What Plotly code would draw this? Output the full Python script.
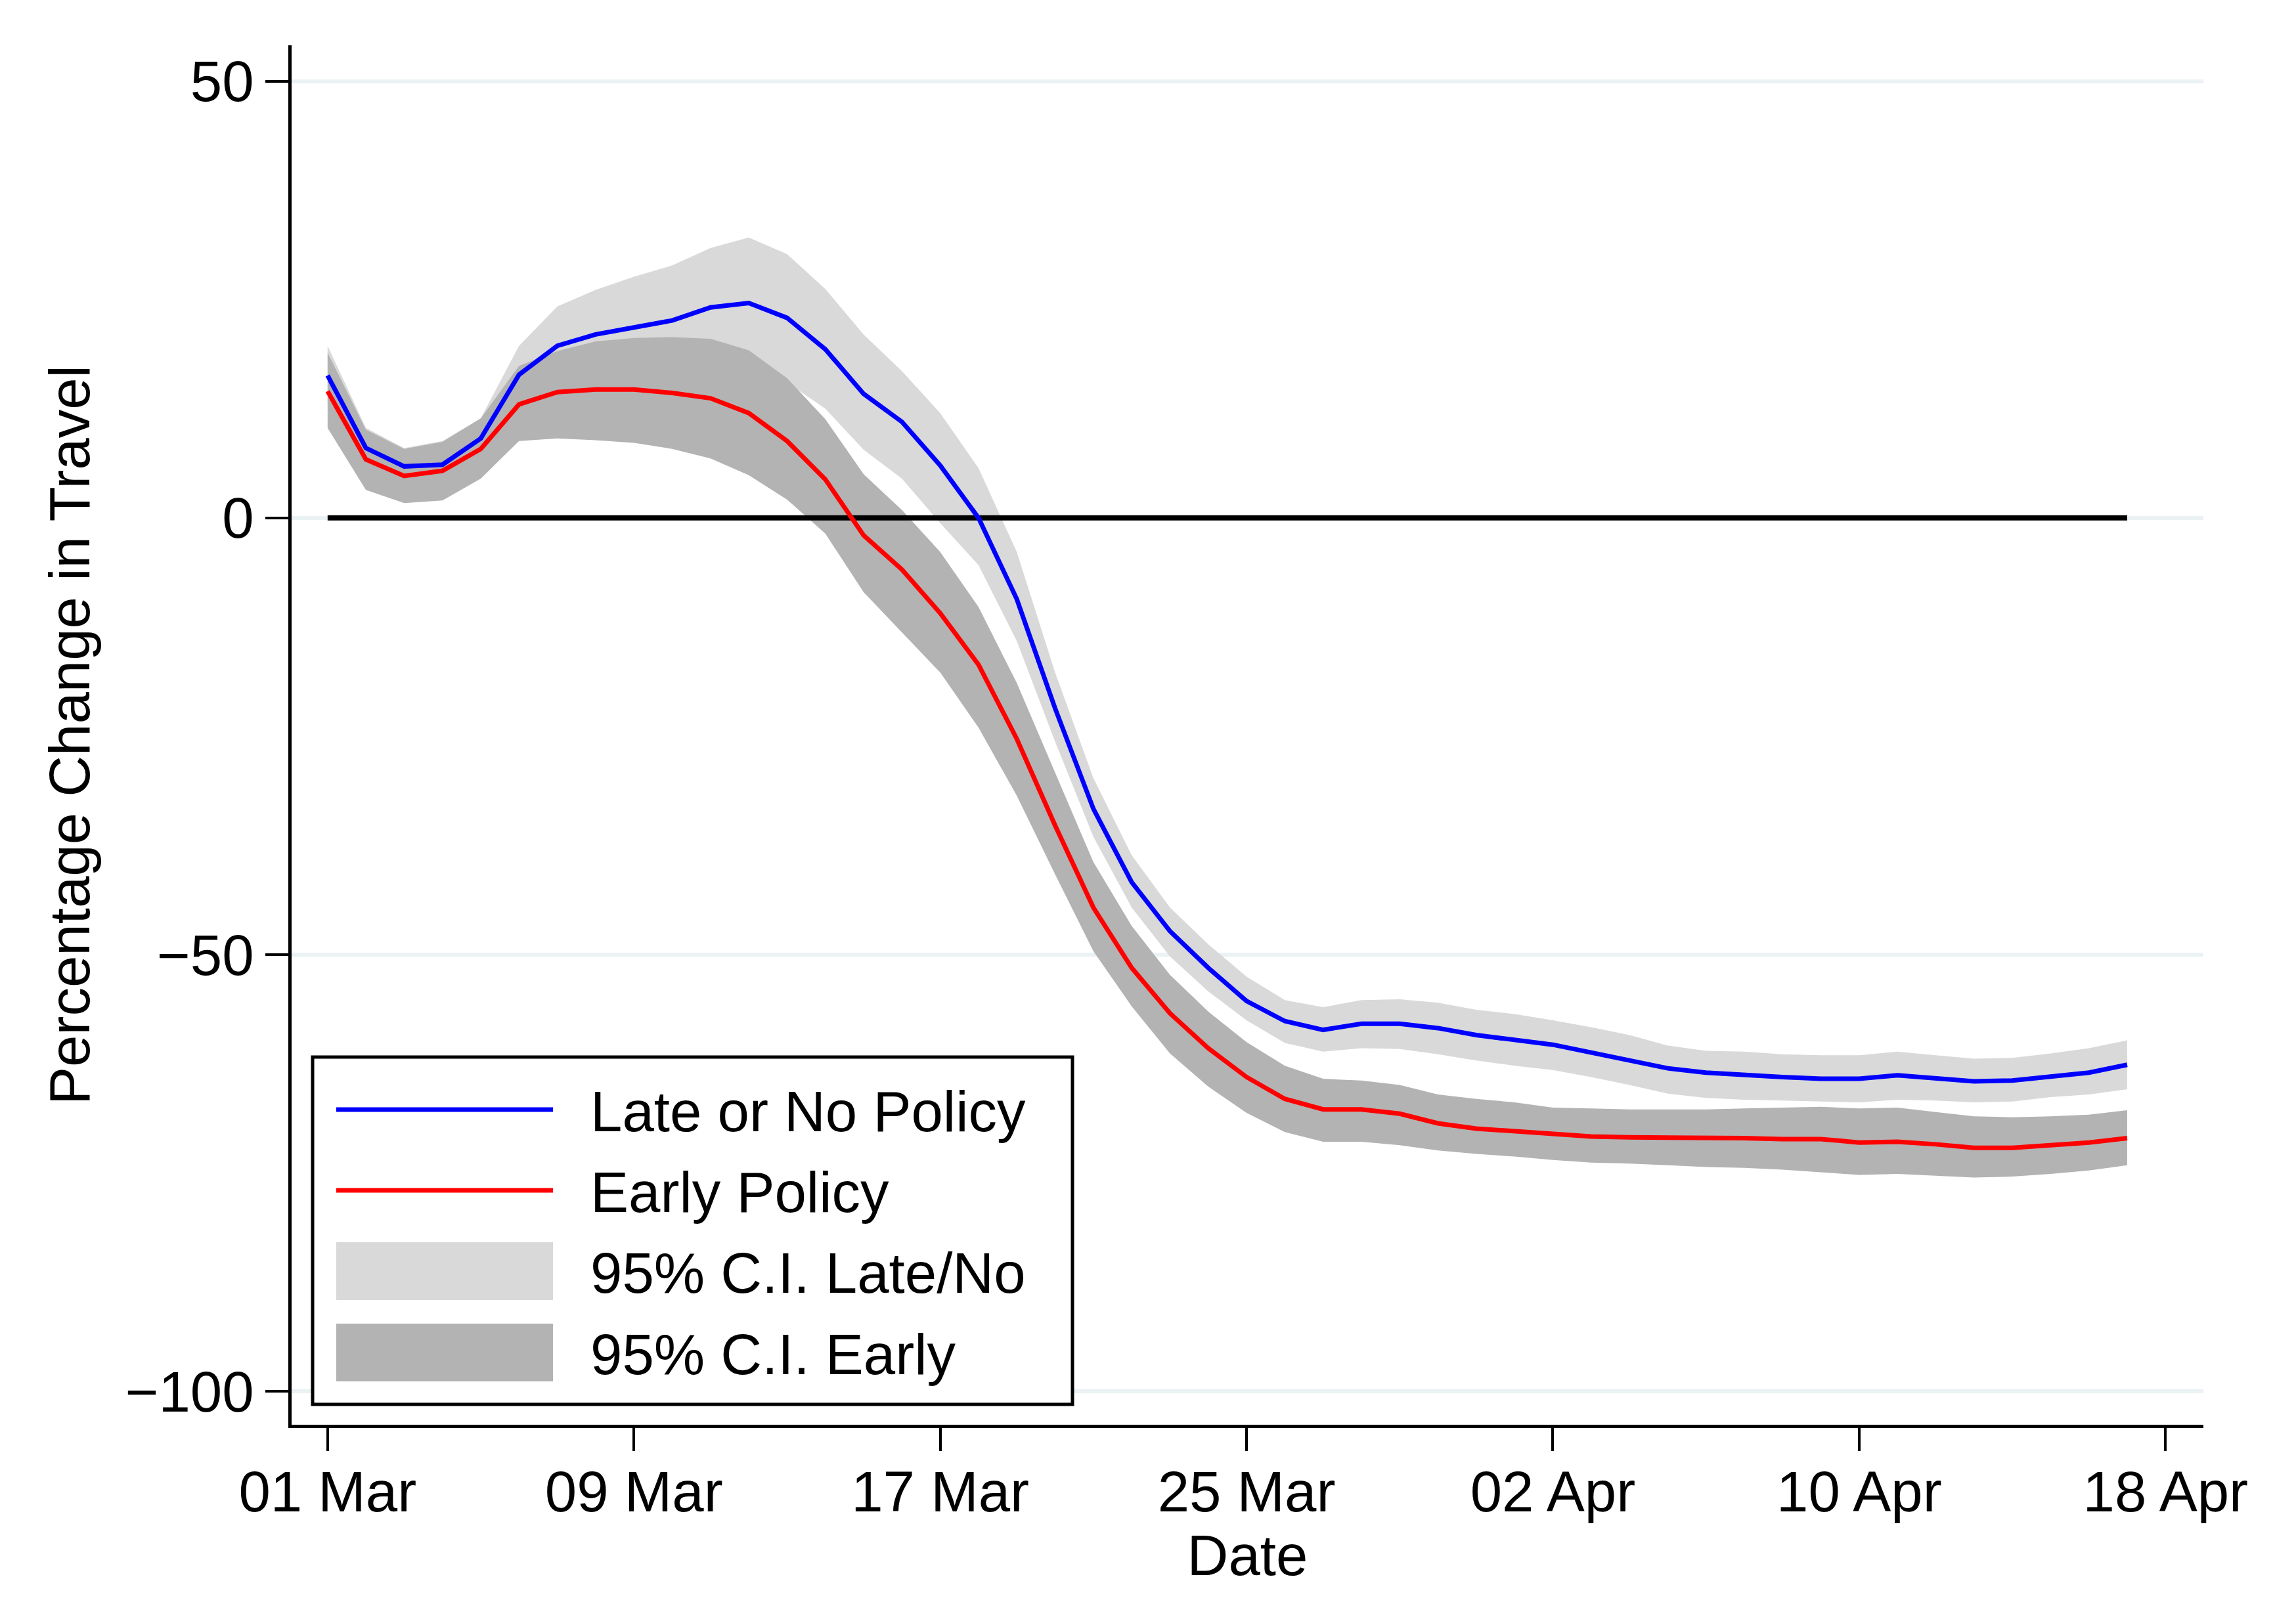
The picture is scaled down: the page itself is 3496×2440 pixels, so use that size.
import pandas as pd
import plotly.graph_objects as go

# ---------------- data ----------------
start_date = "2020-03-01"
n_days = 48
dates = pd.date_range(start_date, periods=n_days, freq="D")

late_mean = [16.3, 8.0, 5.9, 6.1, 9.1, 16.4, 19.7, 21.0, 21.8, 22.6,
             24.1, 24.6, 22.9, 19.3, 14.2, 11.0, 6.0, 0.0, -9.3, -21.8,
             -33.3, -41.7, -47.3, -51.5, -55.3, -57.6, -58.6, -57.9, -57.9, -58.4,
             -59.2, -59.7, -60.3, -61.2, -62.1, -63.0, -63.5, -63.8, -64.0, -64.2,
             -64.2, -63.8, -64.2, -64.5, -64.4, -63.9, -63.5, -62.6]
early_mean = [14.5, 6.7, 4.8, 5.4, 7.9, 13.0, 14.4, 14.7, 14.7, 14.3,
              13.7, 12.0, 8.8, 4.4, -2.0, -5.9, -10.9, -16.8, -25.3, -35.2,
              -44.6, -51.5, -56.7, -60.7, -64.0, -66.5, -67.7, -67.7, -68.2, -69.3,
              -69.9, -70.2, -70.6, -70.8, -70.9, -70.9, -71.0, -71.0, -71.1, -71.1,
              -71.5, -71.4, -71.7, -72.1, -72.1, -71.8, -71.5, -71.0]
late_hi = [19.7, 10.3, 8.0, 8.8, 11.4, 19.7, 24.2, 26.1, 27.6, 28.9,
           30.9, 32.1, 30.2, 26.2, 21.0, 16.8, 12.0, 5.7, -3.9, -17.7,
           -29.8, -38.6, -44.6, -48.8, -52.5, -55.2, -56.0, -55.2, -55.1, -55.5,
           -56.3, -56.8, -57.5, -58.3, -59.2, -60.4, -61.0, -61.1, -61.4, -61.5,
           -61.5, -61.1, -61.5, -61.9, -61.8, -61.3, -60.7, -59.8]
late_lo = [12.9, 5.7, 3.8, 3.4, 6.8, 13.1, 15.2, 15.9, 16.0, 16.3,
           17.3, 17.1, 15.5, 12.5, 7.8, 4.5, -0.6, -5.4, -14.1, -25.6,
           -36.5, -44.6, -50.2, -54.2, -57.5, -60.1, -61.1, -60.7, -60.8, -61.4,
           -62.1, -62.7, -63.2, -64.0, -64.9, -65.9, -66.4, -66.6, -66.7, -66.8,
           -66.9, -66.6, -66.7, -66.9, -66.8, -66.3, -66.0, -65.4]
early_hi = [18.9, 10.1, 7.9, 8.7, 11.4, 17.4, 19.1, 20.2, 20.6, 20.7,
            20.5, 19.2, 16.0, 11.3, 5.0, 0.9, -3.9, -10.2, -18.9, -29.1,
            -39.4, -46.7, -52.3, -56.5, -60.0, -62.7, -64.2, -64.4, -64.9, -66.0,
            -66.5, -66.9, -67.5, -67.6, -67.7, -67.7, -67.7, -67.6, -67.5, -67.4,
            -67.6, -67.5, -68.0, -68.5, -68.6, -68.5, -68.3, -67.8]
early_lo = [10.3, 3.2, 1.7, 2.0, 4.5, 8.8, 9.1, 8.9, 8.6, 7.9,
            6.8, 4.9, 2.1, -1.8, -8.5, -13.1, -17.7, -24.0, -31.8, -40.8,
            -49.6, -55.9, -61.3, -65.1, -68.1, -70.3, -71.4, -71.4, -71.8, -72.4,
            -72.8, -73.1, -73.5, -73.8, -73.9, -74.1, -74.3, -74.4, -74.6, -74.9,
            -75.2, -75.1, -75.3, -75.5, -75.4, -75.1, -74.7, -74.1]
zero_level = [0, 0]

x_tick_dates = ["2020-03-01", "2020-03-09", "2020-03-17", "2020-03-25",
                "2020-04-02", "2020-04-10", "2020-04-18"]
x_tick_labels = ["01 Mar", "09 Mar", "17 Mar", "25 Mar", "02 Apr", "10 Apr", "18 Apr"]
y_tick_vals = [-100, -50, 0, 50]
legend_labels = ["Late or No Policy", "Early Policy", "95% C.I. Late/No", "95% C.I. Early"]

# ---------------- style ----------------
OFF = 8                                  # page body margin compensation
W, H = 3496 - OFF, 2440 - OFF
PL, PR, PT, PB = 444, 3355, 69, 2170     # plot-area pixel edges (screen)
FONT = "Liberation Sans, Arial, sans-serif"
FS = 87
BLUE, RED = "#0000FF", "#FF0000"
LIGHT, DARK = "#D9D9D9", "#B3B3B3"
GRID = "#EAF2F3"

def px_x(p):
    return (p - PL) / (PR - PL)

def px_y(p):
    return (PB - p) / (PB - PT)

fig = go.Figure()
# light CI band (Late/No)
fig.add_trace(go.Scatter(x=dates, y=late_lo, mode="lines", line=dict(width=0, color=LIGHT),
                         showlegend=False, hoverinfo="skip"))
fig.add_trace(go.Scatter(x=dates, y=late_hi, mode="lines", line=dict(width=0, color=LIGHT),
                         fill="tonexty", fillcolor=LIGHT, name=legend_labels[2], showlegend=False))
# dark CI band (Early)
fig.add_trace(go.Scatter(x=dates, y=early_lo, mode="lines", line=dict(width=0, color=DARK),
                         showlegend=False, hoverinfo="skip"))
fig.add_trace(go.Scatter(x=dates, y=early_hi, mode="lines", line=dict(width=0, color=DARK),
                         fill="tonexty", fillcolor=DARK, name=legend_labels[3], showlegend=False))
# zero reference line
fig.add_trace(go.Scatter(x=[dates[0], dates[-1]], y=zero_level, mode="lines",
                         line=dict(color="black", width=8), showlegend=False, hoverinfo="skip"))
# means
fig.add_trace(go.Scatter(x=dates, y=late_mean, mode="lines", line=dict(color=BLUE, width=7),
                         name=legend_labels[0], showlegend=False))
fig.add_trace(go.Scatter(x=dates, y=early_mean, mode="lines", line=dict(color=RED, width=7),
                         name=legend_labels[1], showlegend=False))

# ---------------- manual legend (Stata-style) ----------------
shapes = []
annotations = []
box = dict(x0=476, x1=1633, y0=1610, y1=2139)
shapes.append(dict(type="rect", xref="paper", yref="paper",
                   x0=px_x(box["x0"]), x1=px_x(box["x1"]),
                   y0=px_y(box["y1"]), y1=px_y(box["y0"]),
                   line=dict(color="black", width=5), fillcolor="white", layer="above"))
sym_x0, sym_x1, text_x = 512, 842, 897
rows = [1690, 1813, 1936, 2060]
for yc, col in zip(rows[:2], [BLUE, RED]):
    shapes.append(dict(type="line", xref="paper", yref="paper",
                       x0=px_x(sym_x0), x1=px_x(sym_x1), y0=px_y(yc), y1=px_y(yc),
                       line=dict(color=col, width=7), layer="above"))
for yc, col in zip(rows[2:], [LIGHT, DARK]):
    shapes.append(dict(type="rect", xref="paper", yref="paper",
                       x0=px_x(sym_x0), x1=px_x(sym_x1), y0=px_y(yc + 44), y1=px_y(yc - 44),
                       line=dict(width=0), fillcolor=col, layer="above"))
for yc, lab in zip(rows, legend_labels):
    annotations.append(dict(xref="paper", yref="paper", x=px_x(text_x), y=px_y(yc + 2),
                            xanchor="left", yanchor="middle", text=lab, showarrow=False,
                            font=dict(family=FONT, size=FS, color="black")))

fig.update_layout(
    width=W, height=H,
    margin=dict(l=PL - OFF, r=3496 - PR, t=PT - OFF, b=2440 - PB, pad=0),
    paper_bgcolor="white", plot_bgcolor="white",
    font=dict(family=FONT, size=FS, color="black"),
    showlegend=False,
    shapes=shapes, annotations=annotations,
)
fig.update_xaxes(
    type="date",
    range=["2020-02-29 01:26", "2020-04-18 23:46"],
    tickvals=x_tick_dates, ticktext=x_tick_labels,
    showgrid=False, zeroline=False,
    showline=True, linecolor="black", linewidth=5,
    ticks="outside", ticklen=35, tickwidth=4, tickcolor="black",
    ticklabelstandoff=-12,
    tickfont=dict(family=FONT, size=FS, color="black"),
    title=dict(text="Date", font=dict(family=FONT, size=FS, color="black"), standoff=0),
)
fig.update_yaxes(
    range=[-103.8, 54.1],
    tickvals=y_tick_vals,
    showgrid=True, gridcolor=GRID, gridwidth=6, zeroline=False,
    showline=True, linecolor="black", linewidth=5,
    ticks="outside", ticklen=35, tickwidth=4, tickcolor="black",
    tickfont=dict(family=FONT, size=FS, color="black"),
    title=dict(text="Percentage Change in Travel", font=dict(family=FONT, size=FS, color="black"),
               standoff=27),
)

fig.write_html("out.html")
